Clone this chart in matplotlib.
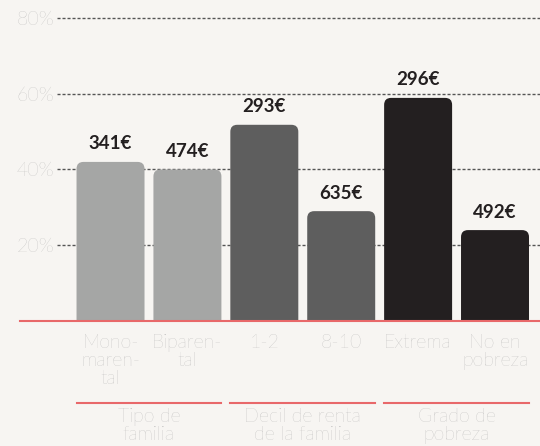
import matplotlib
matplotlib.use("Agg")
import matplotlib.pyplot as plt
from matplotlib.patches import FancyBboxPatch
from matplotlib.lines import Line2D
import matplotlib.transforms as mtransforms

# datos
categorias = ["Mono-\nmaren-\ntal", "Biparen-\ntal", "1-2", "8-10", "Extrema", "No en\npobreza"]
porcentajes = [42, 40, 51.8, 29, 58.9, 24]
importes = ["341€", "474€", "293€", "635€", "296€", "492€"]
colores = ["#a5a6a5", "#a5a6a5", "#5e5e5e", "#5e5e5e", "#231f20", "#231f20"]
grupos = ["Tipo de\nfamilia", "Decil de renta\nde la familia", "Grado de\npobreza"]
grupo_rango = [(0, 1), (2, 3), (4, 5)]
yticks = [20, 40, 60, 80]

fondo = "#f7f5f2"
rojo = "#e8686a"
gris_txt = "#ababab"

plt.rcParams['font.family'] = ['Lato', 'DejaVu Sans']

fig = plt.figure(figsize=(5.4, 4.46), dpi=100, facecolor=fondo)
ax = fig.add_axes([57/540, 125/446, 483/540, 310.6/446], facecolor=fondo)

ax.set_xlim(-0.696, 5.585)
ax.set_ylim(0, 82)

ancho = 0.884
x = list(range(len(categorias)))
# barras con esquinas redondeadas (se recortan por debajo de 0)
aspect = (82 / 310.6) / (6.281 / 483)
for i in x:
    p = FancyBboxPatch((i - ancho/2, -5), ancho, porcentajes[i] + 5,
                       boxstyle="round,pad=0,rounding_size=0.09",
                       mutation_aspect=aspect, facecolor=colores[i],
                       edgecolor="none", zorder=3)
    ax.add_patch(p)
    ax.text(i, porcentajes[i] + 2.5, importes[i], ha="center", va="bottom",
            fontsize=13.5, fontweight="bold", color="#231f20", zorder=4)

# rejilla punteada
for y in yticks:
    ax.axhline(y, color="#555555", lw=1, ls=(0, (2.2, 1.4)), zorder=1, clip_on=False)

ax.set_yticks(yticks)
ax.set_yticklabels([f"{v}%" for v in yticks], fontsize=14, color=gris_txt,
                   fontweight="light")
ax.set_xticks(x)
ax.set_xticklabels(categorias, fontsize=14, color=gris_txt, fontweight="light",
                   linespacing=1.0)
ax.tick_params(axis="x", length=0, pad=9)
ax.tick_params(axis="y", length=0, pad=2)
for s in ax.spines.values():
    s.set_visible(False)

# línea base roja
fig.add_artist(Line2D([20/540, 1], [125/446, 125/446], color=rojo, lw=1.5, zorder=5))

# grupos
trans = mtransforms.blended_transform_factory(ax.transData, ax.transAxes)
for nombre, (a, b) in zip(grupos, grupo_rango):
    ax.plot([a - ancho/2, b + ancho/2], [-0.264, -0.264], color=rojo, lw=1.5,
            transform=trans, clip_on=False)
    ax.text((a + b) / 2, -0.28, nombre, transform=trans, ha="center", va="top",
            fontsize=14, color=gris_txt, fontweight="light", linespacing=1.0)

fig.savefig("out.png", dpi=100, facecolor=fondo)
